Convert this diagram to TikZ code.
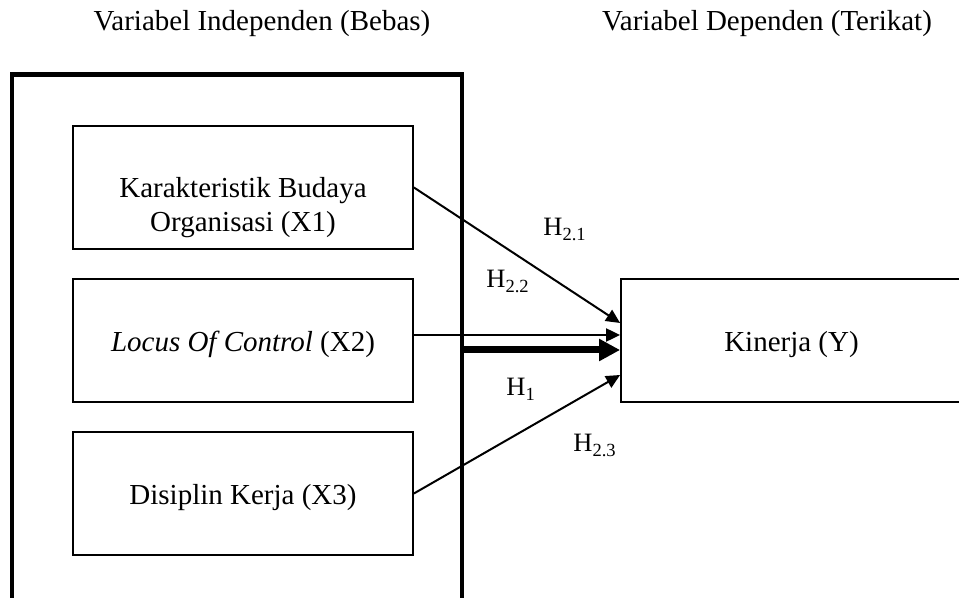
\documentclass[tikz,border=0pt]{standalone}
\usepackage{fontspec}
\setmainfont{Liberation Serif}
\usetikzlibrary{arrows.meta,calc}
\begin{document}
\begin{tikzpicture}[x=0.5pt,y=-0.5pt,
  varbox/.style={draw,line width=0.9pt,minimum width=170pt,minimum height=61.5pt,inner sep=0pt,anchor=center,
    font=\fontsize{14.5}{17}\selectfont,text height=11pt,text depth=0pt},
  txt/.style={font=\fontsize{14.5}{17}\selectfont,inner sep=0pt,anchor=base},
  hlab/.style={font=\fontsize{13.25}{16}\selectfont,inner sep=0pt,anchor=base west},
  conn/.style={line width=1pt,-{Triangle[length=7pt,width=6.5pt]}},
  bigconn/.style={line width=3.5pt,-{Triangle[length=10.5pt,width=10.5pt]}}]
\useasboundingbox (0,0) rectangle (959,598);
\clip (0,0) rectangle (959,598);
% titles
\node[txt] (t1) at (262,31) {Variabel Independen (Bebas)};
\node[txt] (t2) at (767,31) {Variabel Dependen (Terikat)};
% big frame (open at the bottom)
\draw[line width=2.2pt] (12,610) -- (12,74.5) -- (462,74.5) -- (462,610);
\coordinate (bbR) at (462,350);
% variable boxes
\node[varbox] (x1) at (243,187.5) {};
\node[txt] (x1a) at (243,198) {Karakteristik Budaya};
\node[txt] (x1b) at (243,232) {Organisasi (X1)};
\node[varbox] (x2) at (243,340.5) {\textit{Locus Of Control} (X2)};
\node[varbox] (x3) at (243,493.5) {Disiplin Kerja (X3)};
\node[varbox,minimum width=170.5pt] (y) at (791.5,340.5) {Kinerja (Y)};
% connectors
\draw[conn] (x1.east) -- ($(y.west)+(0,-17.5)$);
\draw[conn] ($(x2.east)+(0,-5.5)$) -- ($(y.west)+(0,-5.5)$);
\draw[bigconn] (bbR) -- ($(y.west)+(0,9.5)$);
\draw[conn] (x3.east) -- ($(y.west)+(0,34.5)$);
% hypothesis labels
\node[hlab] (h21) at (543,236) {H\textsubscript{2.1}};
\node[hlab] (h22) at (486,288) {H\textsubscript{2.2}};
\node[hlab] (h1) at (506,396) {H\textsubscript{1}};
\node[hlab] (h23) at (573,452) {H\textsubscript{2.3}};
\end{tikzpicture}
\end{document}
